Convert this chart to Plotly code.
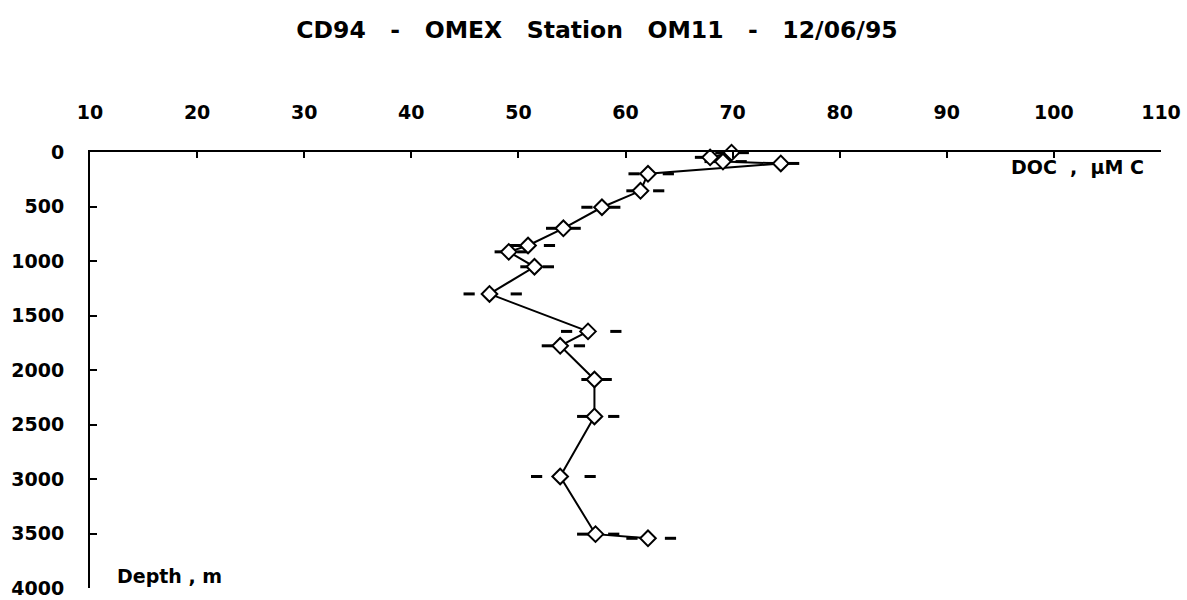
import plotly.graph_objects as go

# DOC (µM C) vs depth (m), CD94 OMEX station OM11
depth = [6, 49, 88, 105, 200, 356, 507, 700, 858, 916, 1053, 1302, 1646, 1778, 2087, 2426, 2977, 3506, 3544]
doc = [69.9, 67.9, 69.1, 74.5, 62.1, 61.4, 57.8, 54.2, 50.9, 49.1, 51.5, 47.3, 56.5, 53.9, 57.1, 57.1, 53.9, 57.2, 62.1]
err_lo = [1.0, 0.9, 1.2, 0.8, 1.3, 0.8, 1.4, 1.1, 1.2, 0.8, 0.8, 1.9, 2.0, 1.2, 0.7, 1.1, 2.2, 1.2, 1.5]
err_hi = [1.1, 1.3, 1.7, 1.2, 1.9, 1.7, 1.2, 1.1, 2.0, 1.3, 1.3, 2.5, 2.6, 1.8, 1.1, 1.8, 2.8, 1.7, 2.1]

x_ticks = [10, 20, 30, 40, 50, 60, 70, 80, 90, 100, 110]
y_ticks = [0, 500, 1000, 1500, 2000, 2500, 3000, 3500, 4000]

FONT = "DejaVu Sans"
W, H = 1187, 600
L, R, T, B = 90, 26, 152, 12
PH = H - T - B
PW = W - L - R
SP = "\u00a0"

fig = go.Figure()

# error-bar end dashes
fig.add_trace(go.Scatter(
    x=[d - e for d, e in zip(doc, err_lo)] + [d + e for d, e in zip(doc, err_hi)],
    y=depth + depth,
    mode="markers",
    marker=dict(symbol="line-ew", size=8, line=dict(color="black", width=3)),
    cliponaxis=False, showlegend=False, hoverinfo="skip",
))

fig.add_trace(go.Scatter(
    x=doc, y=depth,
    mode="lines+markers",
    line=dict(color="black", width=2),
    marker=dict(symbol="diamond", size=12, color="white", line=dict(color="black", width=2)),
    cliponaxis=False, showlegend=False,
))

title_txt = (SP * 3 + "-" + SP * 3).join(["CD94", "OMEX" + SP * 3 + "Station" + SP * 3 + "OM11", "12/06/95"])

fig.update_layout(
    width=W, height=H,
    margin=dict(l=L, r=R, t=T, b=B, autoexpand=False),
    paper_bgcolor="white", plot_bgcolor="white",
    font=dict(family=FONT, color="black"),
    title=dict(
        text=f"<b>{title_txt}</b>",
        x=597 / W, xanchor="center", y=1 - 30 / H, yanchor="middle",
        font=dict(size=23.5, family=FONT, color="black"),
        automargin=False,
    ),
    xaxis=dict(
        side="top", range=[10, 110], tickvals=x_ticks,
        ticktext=[f"<b>{v}</b>" for v in x_ticks],
        tickfont=dict(size=19, family=FONT),
        ticks="inside", ticklen=6, tickwidth=1.5, tickcolor="black",
        showline=True, linecolor="black", linewidth=2,
        showgrid=False, zeroline=False, ticklabelstandoff=23, automargin=False,
        ticklabeloverflow="allow",
    ),
    yaxis=dict(
        range=[4000, 0], tickvals=y_ticks,
        ticktext=[f"<b>{v}</b>" for v in y_ticks],
        tickfont=dict(size=19, family=FONT),
        ticks="inside", ticklen=7, tickwidth=1.5, tickcolor="black",
        showline=True, linecolor="black", linewidth=2,
        showgrid=False, zeroline=False, ticklabelstandoff=20, automargin=False,
        ticklabeloverflow="allow",
    ),
    annotations=[
        dict(text=f"<b>DOC{SP*2},{SP*2}\u03bcM{SP}C</b>", xref="paper", yref="paper",
             x=(1146 - L) / PW, y=1 - (167 - T) / PH, xanchor="right", yanchor="middle",
             showarrow=False, font=dict(size=19, family=FONT)),
        dict(text=f"<b>Depth{SP},{SP}m</b>", xref="paper", yref="paper",
             x=(115 - L) / PW, y=1 - (576 - T) / PH, xanchor="left", yanchor="middle",
             showarrow=False, font=dict(size=19, family=FONT)),
    ],
)

fig.write_html(
    "out.html",
    config={"displayModeBar": False},
    post_script="document.body.style.margin='0';document.body.style.overflow='hidden';",
)
